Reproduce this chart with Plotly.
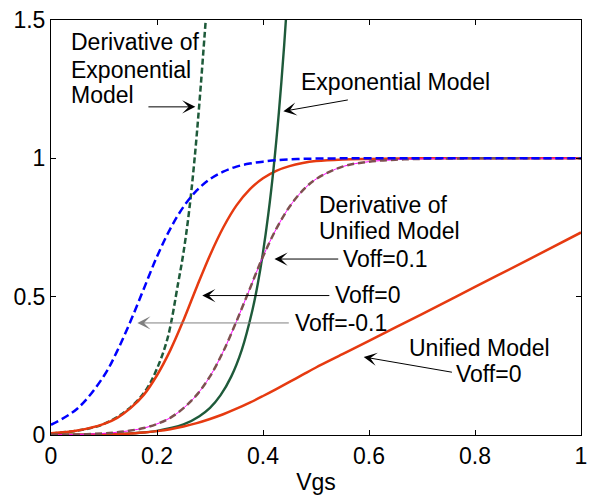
import plotly.graph_objects as go

# Gate voltage samples (V)
vgs = [0.0, 0.05, 0.1, 0.125, 0.15, 0.175, 0.2, 0.225, 0.25, 0.275, 0.3, 0.325,
       0.35, 0.375, 0.4, 0.425, 0.45, 0.475, 0.5, 0.55, 0.6, 0.65, 0.7, 0.8, 0.9, 1.0]

# Derivative of the unified model for three offset voltages
d_unified_m01 = [0.037, 0.096, 0.214, 0.304, 0.411, 0.528, 0.645, 0.745, 0.825, 0.884, 0.925, 0.952,
                 0.970, 0.981, 0.988, 0.993, 0.996, 0.998, 0.999, 1.0, 1.0, 1.0, 1.0, 1.0, 1.0, 1.0]
d_unified_0 = [0.006, 0.016, 0.040, 0.062, 0.097, 0.145, 0.216, 0.306, 0.415, 0.535, 0.650, 0.750,
               0.830, 0.888, 0.928, 0.955, 0.972, 0.983, 0.990, 0.996, 0.998, 0.999, 1.0, 1.0, 1.0, 1.0]
d_unified_p01 = [0.001, 0.002, 0.006, 0.010, 0.016, 0.025, 0.040, 0.062, 0.097, 0.145, 0.212, 0.302,
                 0.411, 0.528, 0.645, 0.745, 0.825, 0.884, 0.925, 0.970, 0.988, 0.995, 0.998, 1.0, 1.0, 1.0]

# Unified model, Voff = 0
unified_0 = [0.0, 0.001, 0.002, 0.003, 0.005, 0.009, 0.014, 0.021, 0.031, 0.043, 0.058, 0.075,
             0.095, 0.117, 0.141, 0.166, 0.192, 0.218, 0.244, 0.292, 0.340, 0.389, 0.437, 0.535, 0.633, 0.732]

# Exponential model and its derivative (steep, sampled more densely)
vgs_exp = [0.0, 0.05, 0.1, 0.15, 0.2, 0.25, 0.28, 0.3, 0.32, 0.34, 0.36, 0.38,
           0.39, 0.4, 0.41, 0.42, 0.43, 0.44, 0.446]
exp_model = [0.0003, 0.0009, 0.0022, 0.0057, 0.015, 0.038, 0.068, 0.098, 0.144, 0.211, 0.308, 0.451,
             0.545, 0.660, 0.798, 0.965, 1.167, 1.41, 1.58]

vgs_dexp = [0.0, 0.05, 0.1, 0.15, 0.18, 0.2, 0.22, 0.24, 0.25, 0.26, 0.27, 0.28, 0.29, 0.296]
d_exp_model = [0.006, 0.016, 0.040, 0.100, 0.165, 0.240, 0.350, 0.550, 0.660, 0.800, 0.980, 1.20, 1.45, 1.60]

x_ticks = [0, 0.2, 0.4, 0.6, 0.8, 1]
x_tick_text = ["0", "0.2", "0.4", "0.6", "0.8", "1"]
y_ticks = [0, 0.5, 1, 1.5]
y_tick_text = ["0", "0.5", "1", "1.5"]

RED = "#E63A10"
GREEN = "#1E5A3A"
BLUE = "#0000FF"
BROWN = "#7E5050"
MAGENTA = "#FF00FF"
FONT = "Liberation Sans, Arial, Helvetica, sans-serif"
FS = 23

fig = go.Figure()
fig.add_trace(go.Scatter(x=vgs_dexp, y=d_exp_model, mode="lines", line_shape="spline",
                         line=dict(color=GREEN, width=2.5, dash="6px,3px")))
fig.add_trace(go.Scatter(x=vgs, y=d_unified_0, mode="lines", line_shape="spline",
                         line=dict(color=RED, width=2.5)))
fig.add_trace(go.Scatter(x=vgs_exp, y=exp_model, mode="lines", line_shape="spline",
                         line=dict(color=GREEN, width=2.4)))
fig.add_trace(go.Scatter(x=vgs, y=unified_0, mode="lines", line_shape="spline",
                         line=dict(color=RED, width=2.5)))
fig.add_trace(go.Scatter(x=vgs, y=d_unified_p01, mode="lines", line_shape="spline",
                         line=dict(color=MAGENTA, width=1)))
fig.add_trace(go.Scatter(x=vgs, y=d_unified_p01, mode="lines", line_shape="spline",
                         line=dict(color=BROWN, width=2.5, dash="7px,4px")))
fig.add_trace(go.Scatter(x=vgs, y=d_unified_m01, mode="lines", line_shape="spline",
                         line=dict(color=BLUE, width=2.5, dash="8px,4px")))

# Arrows: (head x, head y, tail x, tail y, colour)
arrows = [
    (0.2724, 1.186, 0.181, 1.186, "black"),
    (0.4384, 1.170, 0.5629, 1.212, "black"),
    (0.4216, 0.636, 0.5448, 0.636, "black"),
    (0.2854, 0.504, 0.5280, 0.504, "black"),
    (0.1629, 0.405, 0.4515, 0.405, "#808080"),
    (0.5900, 0.282, 0.7593, 0.226, "black"),
]
for hx, hy, tx, ty, c in arrows:
    fig.add_annotation(x=hx, y=hy, ax=tx, ay=ty, xref="x", yref="y", axref="x", ayref="y",
                       text="", showarrow=True, arrowhead=3, arrowsize=2.2, arrowwidth=1,
                       arrowcolor=c, standoff=0, startstandoff=0)

# Labels: (text, left x, centre y)
labels = [
    ("Derivative of", 0.0354, 1.421),
    ("Exponential", 0.0354, 1.321),
    ("Model", 0.0354, 1.229),
    ("Exponential Model", 0.470, 1.275),
    ("Derivative of", 0.5037, 0.832),
    ("Unified Model", 0.5037, 0.739),
    ("Voff=0.1", 0.5485, 0.636),
    ("Voff=0", 0.5336, 0.507),
    ("Voff=-0.1", 0.459, 0.4036),
    ("Unified Model", 0.6735, 0.314),
    ("Voff=0", 0.763, 0.221),
]
for t, lx, ly in labels:
    fig.add_annotation(x=lx, y=ly, xref="x", yref="y", text=t, showarrow=False,
                       xanchor="left", yanchor="middle", borderpad=0,
                       font=dict(family=FONT, size=FS, color="black"))

axis_common = dict(showgrid=False, zeroline=False, showline=True, linecolor="black",
                   linewidth=1, mirror="ticks", ticks="inside", ticklen=5, tickcolor="black",
                   tickfont=dict(family=FONT, size=FS, color="black"))

fig.update_xaxes(range=[0, 1], tickvals=x_ticks, ticktext=x_tick_text,
                 title=dict(text="Vgs", font=dict(family=FONT, size=FS, color="black"), standoff=6),
                 **axis_common)
fig.update_yaxes(range=[0, 1.5], tickvals=y_ticks, ticktext=y_tick_text, **axis_common)

fig.update_layout(width=594, height=499, margin=dict(l=51, r=7, t=15, b=64),
                  paper_bgcolor="white", plot_bgcolor="white", showlegend=False,
                  font=dict(family=FONT, size=FS, color="black"))

fig.write_html("out.html")
